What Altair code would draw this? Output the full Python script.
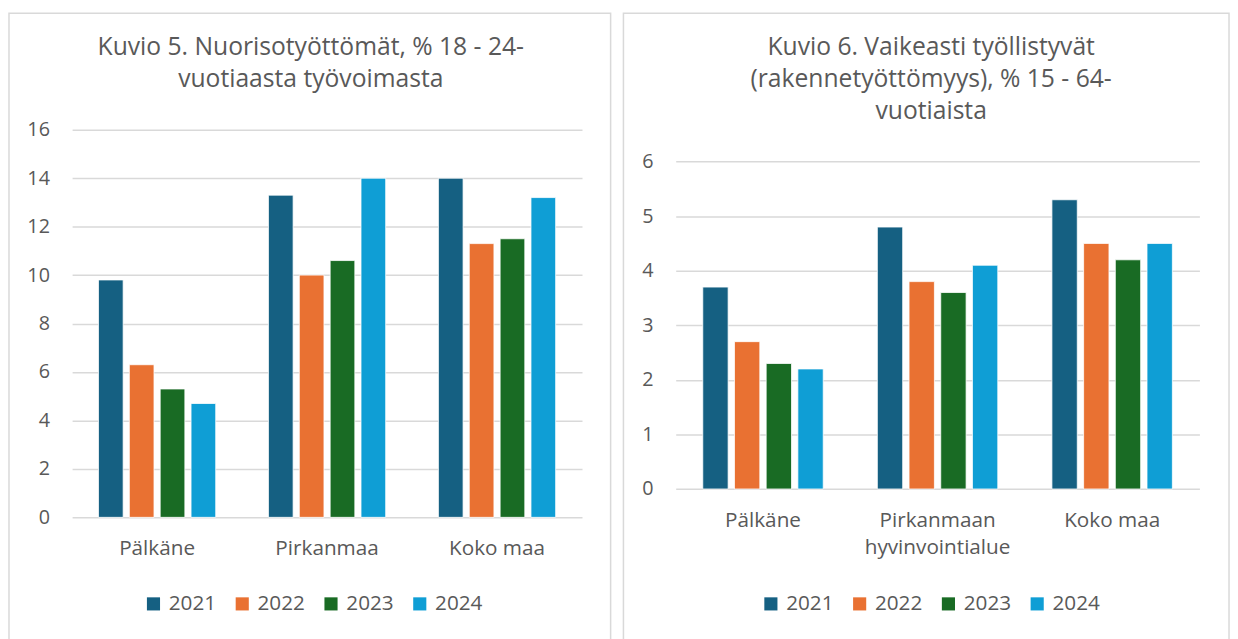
import altair as alt
import pandas as pd

FONT = "Open Sans"
TXT = "#595959"
GRID = "#D9D9D9"

years = ["2021", "2022", "2023", "2024"]
colors = ["#156082", "#E97132", "#196B24", "#0F9ED5"]

# Kuvio 5
areas5 = ["Pälkäne", "Pirkanmaa", "Koko maa"]
k5_2021 = [9.8, 13.3, 14.0]
k5_2022 = [6.3, 10.0, 11.3]
k5_2023 = [5.3, 10.6, 11.5]
k5_2024 = [4.7, 14.0, 13.2]
ticks5 = [0, 2, 4, 6, 8, 10, 12, 14, 16]
title5 = "Kuvio 5. Nuorisotyöttömät, % 18 - 24-\nvuotiaasta työvoimasta"

# Kuvio 6
areas6 = ["Pälkäne", "Pirkanmaan hyvinvointialue", "Koko maa"]
k6_2021 = [3.7, 4.8, 5.3]
k6_2022 = [2.7, 3.8, 4.5]
k6_2023 = [2.3, 3.6, 4.2]
k6_2024 = [2.2, 4.1, 4.5]
ticks6 = [0, 1, 2, 3, 4, 5, 6]
title6 = "Kuvio 6. Vaikeasti työllistyvät\n(rakennetyöttömyys), % 15 - 64-\nvuotiaista"


def frame(areas, series):
    rows = []
    for y, vals in zip(years, series):
        for a, v in zip(areas, vals):
            rows.append({"Alue": a, "Vuosi": y, "Arvo": v})
    return pd.DataFrame(rows)


def panel(df, areas, ticks, ytop, title, w, h, box, tpos, lpos, tlh):
    border = alt.Chart(pd.DataFrame({"k": [0]})).mark_rect(
        fill="white", fillOpacity=0, stroke=GRID, strokeWidth=1.5
    ).encode(
        x=alt.value(box[0]), x2=alt.value(box[1]),
        y=alt.value(box[2]), y2=alt.value(box[3]),
    )
    ttl = alt.Chart(pd.DataFrame({"t": [title]})).mark_text(
        font=FONT, fontSize=25, color=TXT, lineBreak="\n", lineHeight=tlh,
        align="center", baseline="top",
    ).encode(text="t:N", x=alt.value(tpos[0]), y=alt.value(tpos[1]))
    bars = alt.Chart(df).mark_bar(stroke="white", strokeWidth=0.8).encode(
        x=alt.X("Alue:N", sort=areas,
                scale=alt.Scale(paddingInner=0.31, paddingOuter=0.155),
                axis=alt.Axis(title=None, labelAngle=0, domain=False, ticks=False,
                              labelPadding=21, labelFontSize=21, labelColor=TXT,
                              labelFont=FONT, labelLineHeight=27,
                              labelExpr="length(datum.label) > 12 ? split(datum.label, ' ') : datum.label")),
        xOffset=alt.XOffset("Vuosi:N", sort=years,
                            scale=alt.Scale(paddingInner=0.2, paddingOuter=0)),
        y=alt.Y("Arvo:Q", scale=alt.Scale(domain=[ticks[0], ytop], nice=False),
                axis=alt.Axis(title=None, values=ticks, domain=False, ticks=False,
                              grid=True, gridColor=GRID, gridWidth=1.5,
                              labelPadding=23, labelFontSize=20, labelColor=TXT,
                              labelFont=FONT)),
        color=alt.Color("Vuosi:N", sort=years,
                        scale=alt.Scale(domain=years, range=colors),
                        legend=alt.Legend(orient="none", legendX=lpos[0], legendY=lpos[1],
                                          direction="horizontal", title=None,
                                          symbolType="square", symbolSize=177,
                                          symbolStrokeWidth=0, labelFontSize=21,
                                          labelColor=TXT, labelFont=FONT,
                                          columnPadding=15, labelOffset=5, padding=0)),
    )
    return alt.layer(border, ttl, bars).properties(width=w, height=h)


# both plot areas share the same top edge; the right panel's scale is
# extended above 6 so that its gridline 6 sits lower, as in the original
left = panel(frame(areas5, [k5_2021, k5_2022, k5_2023, k5_2024]), areas5, ticks5, 16,
             title5, 517, 393, (-64, 546, -118, 518), (242, -96), (72, 470), 33)
right = panel(frame(areas6, [k6_2021, k6_2022, k6_2023, k6_2024]), areas6, ticks6, 6 * 364.25 / 332,
              title6, 531, 364.25, (-53, 561, -118, 518), (259, -96), (86, 470), 32.5)

chart = alt.hconcat(left, right, spacing=11).resolve_scale(
    x="independent", y="independent", color="independent", xOffset="independent"
).resolve_legend(color="independent").configure_view(stroke=None).properties(
    padding=0, background="white"
)

chart.save("out.html", embed_options={"renderer": "svg", "actions": False})
